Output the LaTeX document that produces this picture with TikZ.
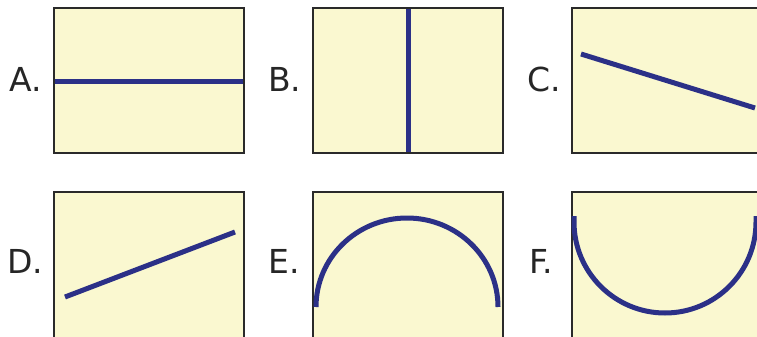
\documentclass[tikz,border=0pt]{standalone}
\usepackage{fontspec}
\setmainfont{DejaVu Sans}
\definecolor{boxfill}{HTML}{FAF8D0}
\definecolor{boxline}{HTML}{2A2A2A}
\definecolor{curve}{HTML}{2B3087}
\begin{document}
\begin{tikzpicture}[x=1pt,y=-1pt,
  panel/.style={draw=boxline,fill=boxfill,line width=2.6pt},
  shape line/.style={draw=curve,line width=5pt},
  lab/.style={anchor=base west,inner sep=0pt,font=\fontsize{33}{33}\selectfont,text=boxline!90!black}]
\useasboundingbox (0,0) rectangle (757,337);
\clip (0,0) rectangle (757,337);
% panels
\draw[panel] (54,8) rectangle (244,153);
\draw[panel] (313,8) rectangle (503,153);
\draw[panel] (572,8) rectangle (780,153);
\draw[panel] (54,192) rectangle (244,360);
\draw[panel] (313,192) rectangle (503,360);
\draw[panel] (572,192) rectangle (780,360);
% labels
\node[lab] (la) at (9,91) {A.};
\node[lab] (lb) at (268,91) {B.};
\node[lab] (lc) at (527,91) {C.};
\node[lab] (ld) at (7,273) {D.};
\node[lab] (le) at (268,273) {E.};
\node[lab] (lf) at (529,273) {F.};
% shapes
\draw[shape line] (55,81) -- (243,81);
\draw[shape line] (408,9) -- (408,152);
\draw[shape line] (581,54) -- (755,108);
\draw[shape line] (65,297) -- (235,232);
\draw[shape line] (316,307) arc[start angle=180,end angle=0,x radius=91,y radius=-89];
\draw[shape line] (574,216) -- (574,222) arc[start angle=180,end angle=360,x radius=91,y radius=-91] -- (756,216);
\end{tikzpicture}
\end{document}
